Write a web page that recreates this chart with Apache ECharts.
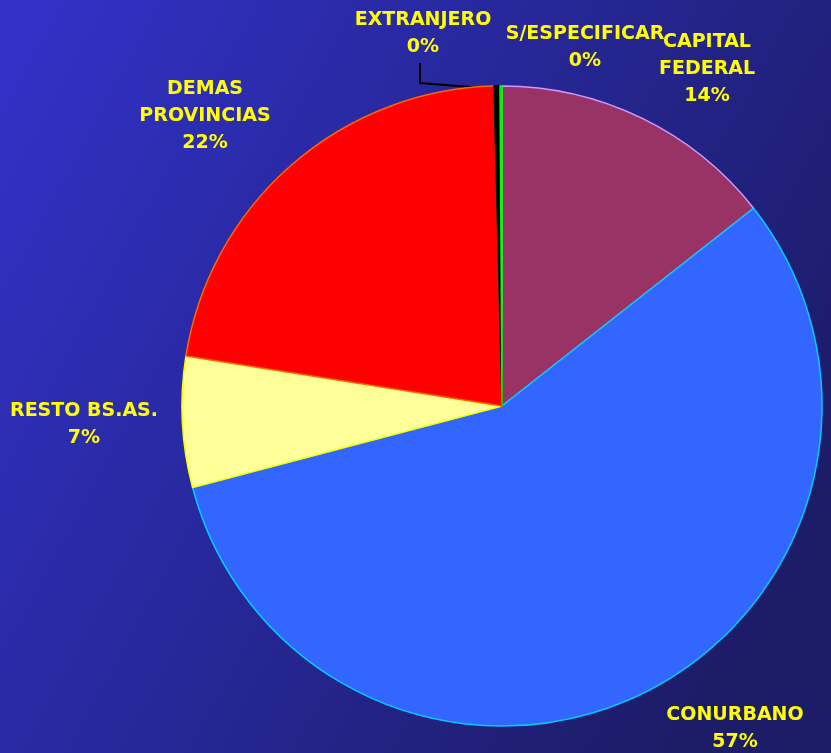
<!DOCTYPE html>
<html>
<head>
<meta charset="utf-8">
<script src="https://cdn.jsdelivr.net/npm/echarts@6/dist/echarts.min.js"></script>
<style>html,body{margin:0;padding:0;}#c{width:831px;height:753px;}</style>
</head>
<body>
<div id="c"></div>
<script>
const categories = ['CAPITAL\nFEDERAL', 'CONURBANO', 'RESTO BS.AS.', 'DEMAS\nPROVINCIAS', 'EXTRANJERO', 'S/ESPECIFICAR'];
const values = [14.4, 56.5, 6.6, 22.1, 0.3, 0.1];
const sliceColors = ['#993366', '#3366FF', '#FFFF99', '#FF0000', '#000000', '#00CC00'];
const borderColors = ['#CC99FF', '#00CCFF', '#FFFF00', '#FF6600', '#000000', '#00FF00'];
const labelCenters = [[707, 69], [735, 729], [84, 425], [205, 116], [423, 34], [585, 48]];

const chart = echarts.init(document.getElementById('c'));
chart.setOption({
  backgroundColor: {
    type: 'linear', x: 0, y: 0, x2: 1, y2: 0.6,
    colorStops: [{offset: 0, color: '#3232CA'}, {offset: 1, color: '#1C1C68'}]
  },
  animation: false,
  series: [{
    type: 'pie',
    center: [502, 406],
    radius: 320,
    startAngle: 90,
    clockwise: true,
    avoidLabelOverlap: false,
    data: categories.map((n, i) => ({
      name: n,
      value: values[i],
      itemStyle: {color: sliceColors[i], borderColor: borderColors[i], borderWidth: 1.5},
      labelLine: i === 4 ? {show: true, lineStyle: {color: '#000', width: 2}} : {show: false}
    })),
    label: {
      show: true,
      position: 'outside',
      formatter: p => p.name + '\n' + Math.round(p.percent) + '%',
      color: '#FFFF00',
      fontFamily: 'DejaVu Sans',
      fontWeight: 'bold',
      fontSize: 19,
      lineHeight: 27,
      align: 'center'
    },
    labelLine: {show: false},
    labelLayout: p => {
      const c = labelCenters[p.dataIndex];
      const r = {x: c[0], y: c[1], align: 'center', verticalAlign: 'middle'};
      if (p.dataIndex === 4) r.labelLinePoints = [[420, 63], [420, 83], [497, 89]];
      return r;
    }
  }]
});
</script>
</body>
</html>
